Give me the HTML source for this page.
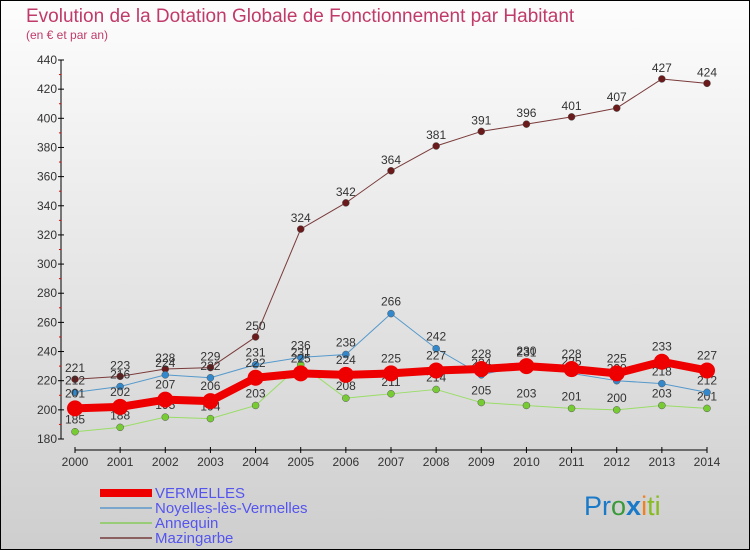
<!DOCTYPE html>
<html><head><meta charset="utf-8"><style>
html,body{margin:0;padding:0}
body{width:750px;height:550px;overflow:hidden;font-family:"Liberation Sans",sans-serif}
</style></head><body>
<svg width="750" height="550" xmlns="http://www.w3.org/2000/svg" style="display:block">
<defs><linearGradient id="bg" x1="0" y1="0" x2="0" y2="1"><stop offset="0" stop-color="#fdfdfd"/><stop offset="1" stop-color="#cecece"/></linearGradient></defs>
<rect x="0.5" y="0.5" width="749" height="549" fill="url(#bg)" stroke="#000"/>
<text x="26" y="22" font-size="19" fill="#c03a6a">Evolution de la Dotation Globale de Fonctionnement par Habitant</text>
<text x="26" y="39" font-size="12" fill="#c03a6a">(en € et par an)</text>
<g id="axes"></g>
<g id="series"></g>
<g id="legend">
<rect x="100" y="489" width="52" height="8" fill="#e00"/>
<text x="155" y="498" font-size="15" fill="#5555ee">VERMELLES</text>
<rect x="100" y="507" width="52" height="2" fill="#7aa6cc"/>
<text x="155" y="513" font-size="15" fill="#5555ee">Noyelles-lès-Vermelles</text>
<rect x="100" y="522" width="52" height="2" fill="#99cc77"/>
<text x="155" y="528" font-size="15" fill="#5555ee">Annequin</text>
<rect x="100" y="537" width="52" height="2" fill="#8a6060"/>
<text x="155" y="543" font-size="15" fill="#5555ee">Mazingarbe</text>
</g>
<text x="584" y="515" font-size="27"><tspan fill="#1a7ac8">Pr</tspan><tspan fill="#3a9a3a">o</tspan><tspan fill="#1a7ac8" font-weight="bold">x</tspan><tspan fill="#f08020">i</tspan><tspan fill="#88bb22">ti</tspan></text>
</svg>
<script>
const years=[2000,2001,2002,2003,2004,2005,2006,2007,2008,2009,2010,2011,2012,2013,2014];
const vermelles=[201,202,207,206,222,225,224,225,227,228,230,228,225,233,227];
const noyelles=[212,216,224,222,231,236,238,266,242,224,231,225,220,218,212];
const annequin=[185,188,195,194,203,231,208,211,214,205,203,201,200,203,201];
const mazingarbe=[221,223,228,229,250,324,342,364,381,391,396,401,407,427,424];
const yTicks=[180,200,220,240,260,280,300,320,340,360,380,400,420,440];
const NS='http://www.w3.org/2000/svg';
const xs=i=>75+i*(707-75)/(years.length-1);
const ys=v=>439-(v-180)*(439-60)/260;
function mk(tag,attrs,parent,txt){const e=document.createElementNS(NS,tag);for(const k in attrs)e.setAttribute(k,attrs[k]);if(txt!==undefined)e.textContent=txt;parent.appendChild(e);return e;}
const ax=document.getElementById('axes');
let e=mk('line',{x1:61,y1:ys(440),x2:61,y2:ys(180),stroke:'#000'},ax);


yTicks.forEach((t,k)=>{
  mk('line',{x1:58,x2:64,y1:ys(t),y2:ys(t),stroke:'#000'},ax);
  if(k<yTicks.length-1) mk('line',{x1:59,x2:61,y1:ys(t+10),y2:ys(t+10),stroke:'#e00'},ax);
  const l=mk('text',{x:57,y:ys(t)+4,'font-size':12,fill:'#333','text-anchor':'end'},ax,String(t));
  
  
});
e=mk('line',{x1:75,y1:450,x2:707,y2:450,stroke:'#000'},ax);


years.forEach((y,i)=>{
  mk('line',{x1:xs(i),x2:xs(i),y1:447,y2:453,stroke:'#000'},ax);
  const l=mk('text',{x:xs(i),y:466,'font-size':12,fill:'#333','text-anchor':'middle'},ax,String(y));
  
  
});
const sg=document.getElementById('series');
function series(name,data,color,dot,width,r,labelOff){
  const g=mk('g',{},sg);
  
  
  const pts=data.map((v,i)=>xs(i)+','+ys(v)).join(' ');
  const pl=mk('polyline',{points:pts,fill:'none',stroke:color,'stroke-width':width,'stroke-linejoin':'round'},g);
  
  
  data.forEach((v,i)=>{
    const c=mk('circle',{cx:xs(i),cy:ys(v),r:r,fill:dot,stroke:width>3?'none':'#555','stroke-width':0.5},g);
    
    
    const t=mk('text',{x:xs(i),y:ys(v)-labelOff,'font-size':12,fill:'#333','text-anchor':'middle'},g,String(v));
    
    
  });
}
series('mazingarbe',mazingarbe,'#7a3a3a','#6a1a1a',1,3.5,7);
series('annequin',annequin,'#99dd66','#77cc33',1,3.5,8);
series('noyelles',noyelles,'#5599cc','#3388cc',1,3.5,8);
series('vermelles',vermelles,'#ee0000','#ee0000',8,8,11);
</script>
</body></html>
